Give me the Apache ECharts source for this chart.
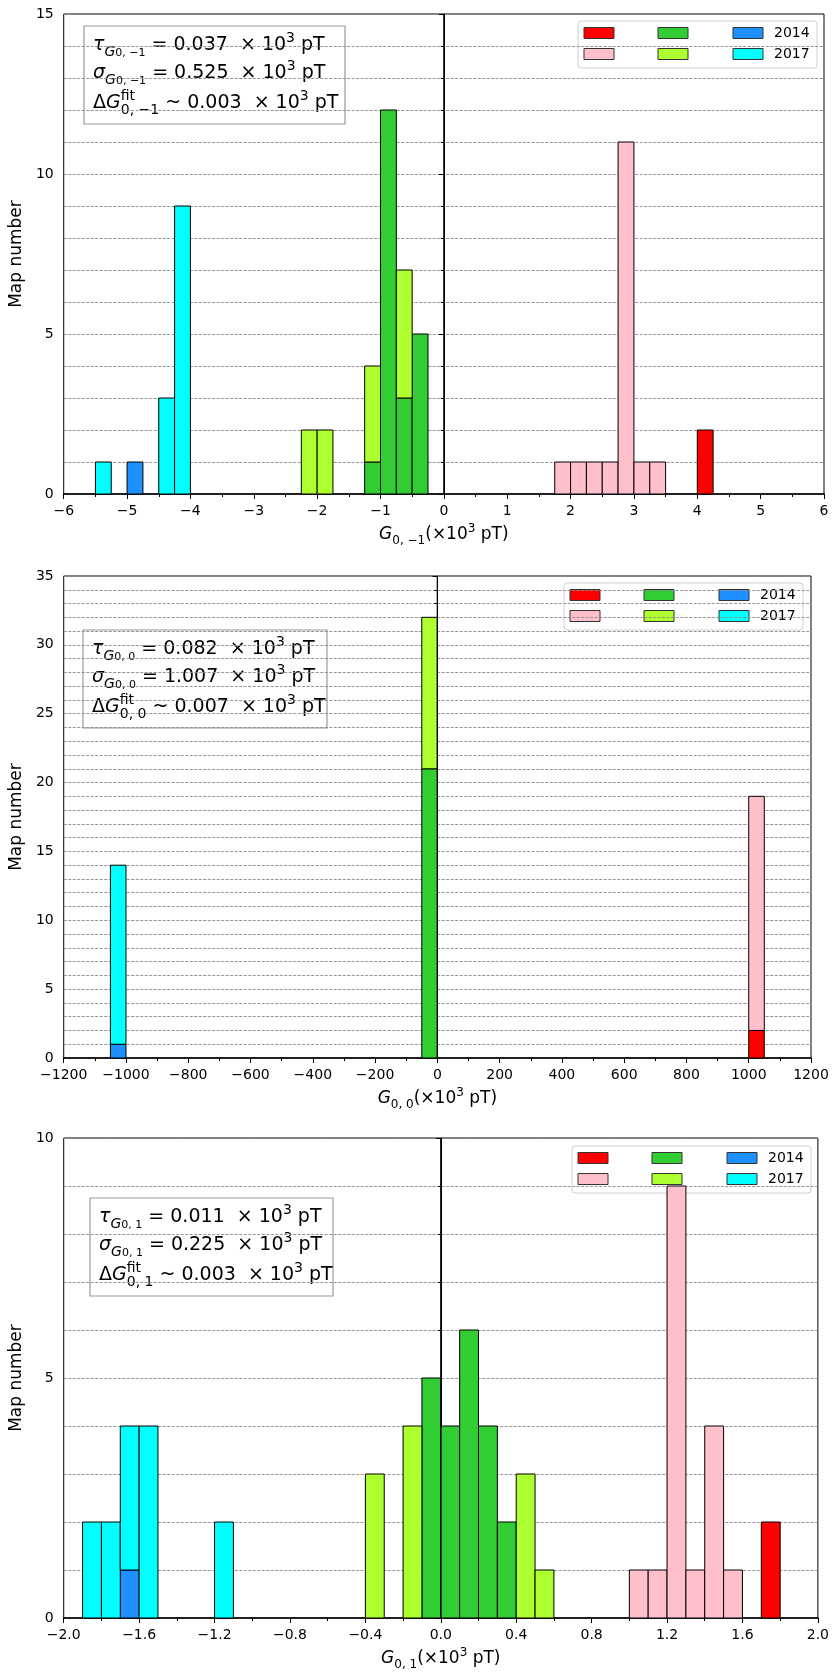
<!DOCTYPE html>
<html>
<head>
<meta charset="utf-8">
<script src="https://cdn.jsdelivr.net/npm/echarts@6/dist/echarts.min.js"></script>
<style>
html,body{margin:0;padding:0;background:#fff}
#main{width:832px;height:1672px}
</style>
</head>
<body>
<div id="main"></div>
<script>
// histogram data: [bin start, count], stacked in the order red, pink, green, yellowgreen, blue, cyan
// panel 1 : G(0,-1), bins 0.25
var p1Bin = 0.25;
var p1Red = [[4.0, 2]];
var p1Pink = [[1.75, 1], [2.0, 1], [2.25, 1], [2.5, 1], [2.75, 11], [3.0, 1], [3.25, 1]];
var p1Green = [[-1.25, 1], [-1.0, 12], [-0.75, 3], [-0.5, 5]];
var p1YellowGreen = [[-2.25, 2], [-2.0, 2], [-1.25, 3], [-0.75, 4]];
var p1Blue = [[-5.0, 1]];
var p1Cyan = [[-5.5, 1], [-4.5, 3], [-4.25, 9]];

// panel 2 : G(0,0), bins 50
var p2Bin = 50;
var p2Red = [[1000, 2]];
var p2Pink = [[1000, 17]];
var p2Green = [[-50, 21]];
var p2YellowGreen = [[-50, 11]];
var p2Blue = [[-1050, 1]];
var p2Cyan = [[-1050, 13]];

// panel 3 : G(0,1), bins 0.1
var p3Bin = 0.1;
var p3Red = [[1.7, 2]];
var p3Pink = [[1.0, 1], [1.1, 1], [1.2, 9], [1.3, 1], [1.4, 4], [1.5, 1]];
var p3Green = [[-0.1, 5], [0.0, 4], [0.1, 6], [0.2, 4], [0.3, 2]];
var p3YellowGreen = [[-0.4, 3], [-0.2, 4], [0.4, 3], [0.5, 1]];
var p3Blue = [[-1.7, 1]];
var p3Cyan = [[-1.9, 2], [-1.8, 2], [-1.7, 3], [-1.6, 4], [-1.2, 2]];

// fit statistics shown in the boxes (tau, sigma, delta)
var p1Stats = ['0.037', '0.525', '0.003'];
var p2Stats = ['0.082', '1.007', '0.007'];
var p3Stats = ['0.011', '0.225', '0.003'];

var colors = ['#ff0000', '#ffc0cb', '#32cd32', '#adff2f', '#1e90ff', '#00ffff'];
var legendLabels = ['', '', '', '', '2014', '2017'];

var FONT = 'DejaVu Sans';

var panels = [
  {bins: [p1Red, p1Pink, p1Green, p1YellowGreen, p1Blue, p1Cyan], bin: p1Bin, stats: p1Stats, sub: '0, \u22121',
   grid: {left: 60, top: 14, width: 764, height: 480}, xr: [-6, 6, 1], yr: [0, 15], dec: 0,
   box: [84, 26, 261, 98], leg: [578, 21]},
  {bins: [p2Red, p2Pink, p2Green, p2YellowGreen, p2Blue, p2Cyan], bin: p2Bin, stats: p2Stats, sub: '0, 0',
   grid: {left: 60, top: 576, width: 751, height: 482}, xr: [-1200, 1200, 200], yr: [0, 35], dec: 0,
   box: [83, 630, 244, 98], leg: [564, 583]},
  {bins: [p3Red, p3Pink, p3Green, p3YellowGreen, p3Blue, p3Cyan], bin: p3Bin, stats: p3Stats, sub: '0, 1',
   grid: {left: 60, top: 1138, width: 758, height: 482}, xr: [-2, 2, 0.4], yr: [0, 10], dec: 1,
   box: [90, 1198, 243, 98], leg: [572, 1146]}
];

// stacked histogram -> [x0, x1, y0, y1]
function stackBins(groups, bin) {
  var base = {};
  return groups.map(function (g) {
    return g.map(function (d) {
      var k = d[0].toFixed(3);
      var y0 = base[k] || 0;
      base[k] = y0 + d[1];
      return [d[0], d[0] + bin, y0, y0 + d[1]];
    });
  });
}

function renderBar(params, api) {
  var p0 = api.coord([api.value(0), api.value(3)]);
  var p1 = api.coord([api.value(1), api.value(2)]);
  return {
    type: 'rect',
    shape: {x: p0[0], y: p0[1], width: p1[0] - p0[0], height: p1[1] - p0[1]},
    style: {fill: api.visual('color'), stroke: '#000', lineWidth: 1}
  };
}

function fmt(dec) {
  return function (v) {
    var s = Math.abs(v).toFixed(dec);
    return v < -1e-9 ? '\u2212' + s : s;
  };
}

var gridLine = {show: true, lineStyle: {color: '#8a8a8a', type: [3, 1.5], width: 0.9}};

var axisRich = {
  n: {fontSize: 17, fontFamily: FONT, lineHeight: 24, color: '#000'},
  i: {fontSize: 17, fontFamily: FONT, fontStyle: 'italic', lineHeight: 24, color: '#000'},
  s: {fontSize: 12, fontFamily: FONT, verticalAlign: 'bottom', lineHeight: 12, color: '#000'},
  p: {fontSize: 12, fontFamily: FONT, verticalAlign: 'top', lineHeight: 12, color: '#000'}
};

var boxRich = {
  n: {fontSize: 19, fontFamily: FONT, lineHeight: 28, color: '#000'},
  t: {fontSize: 19, fontFamily: FONT, fontStyle: 'italic', lineHeight: 28, color: '#000'},
  s: {fontSize: 14, fontFamily: FONT, fontStyle: 'italic', verticalAlign: 'bottom', lineHeight: 12, color: '#000'},
  ss: {fontSize: 11, fontFamily: FONT, verticalAlign: 'bottom', lineHeight: 10, color: '#000'},
  p: {fontSize: 14, fontFamily: FONT, verticalAlign: 'top', lineHeight: 16, color: '#000'},
  f: {fontSize: 14, fontFamily: FONT, verticalAlign: 'top', lineHeight: 18, width: 0, color: '#000'},
  d: {fontSize: 14, fontFamily: FONT, verticalAlign: 'bottom', lineHeight: 14, color: '#000'}
};

var grids = [], xAxes = [], yAxes = [], series = [], graphics = [];

panels.forEach(function (pn, k) {
  grids.push(Object.assign({show: true, borderColor: '#000', borderWidth: 1, backgroundColor: 'transparent'}, pn.grid));
  xAxes.push({
    gridIndex: k, type: 'value', min: pn.xr[0], max: pn.xr[1], interval: pn.xr[2],
    axisLine: {onZero: false, lineStyle: {color: '#000', width: 1.5}},
    axisTick: {show: true, length: 5, lineStyle: {color: '#000'}},
    minorTick: {show: true, splitNumber: 2, length: 3, lineStyle: {color: '#000'}},
    splitLine: {show: false},
    axisLabel: {color: '#000', fontSize: 14, fontFamily: FONT, margin: 10, formatter: fmt(pn.dec), showMinLabel: true, showMaxLabel: true},
    name: '{i|G}{s|' + pn.sub + '}{n|(\u00d710}{p|3}{n| pT)}',
    nameLocation: 'middle', nameGap: 41,
    nameTextStyle: {rich: axisRich, align: 'center', verticalAlign: 'middle'}
  });
  yAxes.push({
    gridIndex: k, type: 'value', min: pn.yr[0], max: pn.yr[1], interval: 5,
    axisLine: {show: true, lineStyle: {color: '#000', width: 1}},
    axisTick: {show: true, length: 5, lineStyle: {color: '#000'}},
    minorTick: {show: true, splitNumber: 5, length: 3, lineStyle: {color: '#000'}},
    splitLine: gridLine,
    minorSplitLine: gridLine,
    axisLabel: {color: '#000', fontSize: 14, fontFamily: FONT, margin: 10},
    name: 'Map number', nameLocation: 'middle', nameGap: 42,
    nameTextStyle: {color: '#000', fontSize: 17, fontFamily: FONT, align: 'center', verticalAlign: 'middle'}
  });

  var stacked = stackBins(pn.bins, pn.bin);
  stacked.forEach(function (data, j) {
    series.push({
      type: 'custom', name: legendLabels[j] || ('c' + j), xAxisIndex: k, yAxisIndex: k,
      renderItem: renderBar, encode: {x: [0, 1], y: [2, 3]},
      itemStyle: {color: colors[j]}, data: data, z: 2
    });
  });
  series.push({
    type: 'line', xAxisIndex: k, yAxisIndex: k, data: [[0, pn.yr[0]], [0, pn.yr[1]]],
    showSymbol: false, symbol: 'none', lineStyle: {color: '#000', width: 1.3}, z: 3, silent: true
  });

  // fit text box
  var bx = pn.box;
  var s = pn.sub, st = pn.stats;
  var lines = [
    '{t|\u03c4}{s|G}{ss|' + s + '}{n| = ' + st[0] + '  \u00d7 10}{p|3}{n| pT}',
    '{t|\u03c3}{s|G}{ss|' + s + '}{n| = ' + st[1] + '  \u00d7 10}{p|3}{n| pT}',
    '{n|\u0394}{t|G}{f|fit}{d|' + s + '}{n| ~ ' + st[2] + '  \u00d7 10}{p|3}{n| pT}'
  ];
  var offs = [19, 47, 77];
  var children = [{type: 'rect', shape: {x: bx[0], y: bx[1], width: bx[2], height: bx[3]},
    style: {fill: 'rgba(255,255,255,0.8)', stroke: '#999', lineWidth: 1.2}}];
  lines.forEach(function (ln, i) {
    children.push({type: 'text', x: bx[0] + 9, y: bx[1] + offs[i],
      style: {text: ln, rich: boxRich, verticalAlign: 'middle', align: 'left'}});
  });

  // legend box
  var lg = pn.leg;
  children.push({type: 'rect', shape: {x: lg[0], y: lg[1], width: 239, height: 47, r: 3},
    style: {fill: 'rgba(255,255,255,0.8)', stroke: '#d0d0d0', lineWidth: 1}});
  var colX = [6, 80, 155], rowY = [12, 33];
  colors.forEach(function (c, j) {
    var col = Math.floor(j / 2), row = j % 2;
    children.push({type: 'rect', shape: {x: lg[0] + colX[col], y: lg[1] + rowY[row] - 5.5, width: 30, height: 11},
      style: {fill: c, stroke: '#333', lineWidth: 1}});
    if (legendLabels[j]) {
      children.push({type: 'text', x: lg[0] + 196, y: lg[1] + rowY[row],
        style: {text: legendLabels[j], font: '14px "DejaVu Sans"', fill: '#000', verticalAlign: 'middle', align: 'left'}});
    }
  });
  graphics.push({type: 'group', z: 10, children: children});
});

var chart = echarts.init(document.getElementById('main'), null, {renderer: 'canvas'});
chart.setOption({
  animation: false,
  backgroundColor: '#fff',
  grid: grids,
  xAxis: xAxes,
  yAxis: yAxes,
  series: series,
  graphic: graphics
});
</script>
</body>
</html>
